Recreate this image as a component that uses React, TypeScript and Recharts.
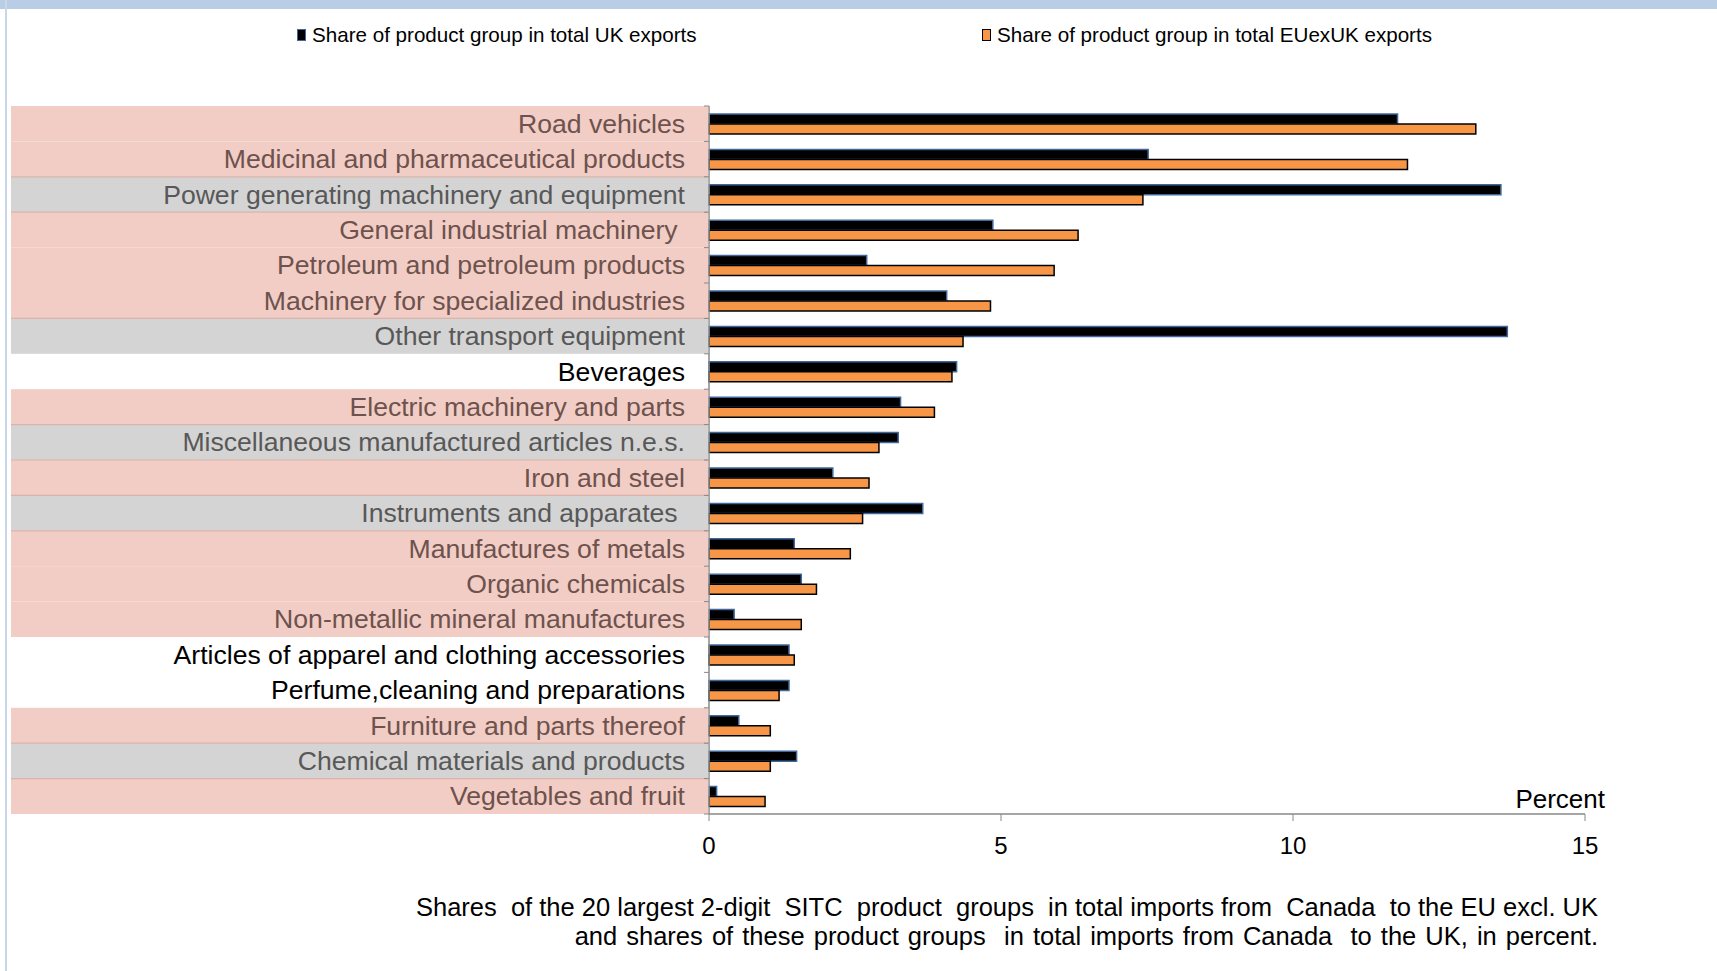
import React from "react";
import { BarChart, Bar, XAxis, YAxis, Label } from "recharts";

const categories = [
  "Road vehicles",
  "Medicinal and pharmaceutical products",
  "Power generating machinery and equipment",
  "General industrial machinery\u00a0",
  "Petroleum and petroleum products",
  "Machinery for specialized industries",
  "Other transport equipment",
  "Beverages",
  "Electric machinery and parts",
  "Miscellaneous manufactured articles n.e.s.",
  "Iron and steel",
  "Instruments and apparates\u00a0",
  "Manufactures of metals",
  "Organic chemicals",
  "Non-metallic mineral manufactures",
  "Articles of apparel and clothing accessories",
  "Perfume,cleaning and preparations",
  "Furniture and parts thereof",
  "Chemical materials and products",
  "Vegetables and fruit",
];

// share of product group in total UK exports (%)
const ukShare = [
  11.79, 7.52, 13.56, 4.86, 2.7, 4.07, 13.67, 4.24, 3.28, 3.24,
  2.12, 3.66, 1.46, 1.58, 0.43, 1.37, 1.37, 0.51, 1.5, 0.13,
];

// share of product group in total EUexUK exports (%)
const euShare = [
  13.13, 11.96, 7.43, 6.32, 5.91, 4.82, 4.35, 4.16, 3.86, 2.91,
  2.74, 2.63, 2.42, 1.84, 1.58, 1.46, 1.2, 1.05, 1.05, 0.96,
];

const seriesNames = [
  "Share of product group in total UK exports",
  "Share of product group in total EUexUK exports",
];

const xTicks = [0, 5, 10, 15];

const captionLines = [
  "Shares  of the 20 largest 2-digit  SITC  product  groups  in total imports from  Canada  to the EU excl. UK",
  "and shares of these product groups  in total imports from Canada  to the UK, in percent.",
];

// row background shading of the label column
const rowShade = [
  "pink", "pink", "gray", "pink", "pink", "pink", "gray", "none", "pink", "gray",
  "pink", "gray", "pink", "pink", "pink", "none", "none", "pink", "gray", "pink",
];

const data = categories.map((name, i) => ({
  name,
  uk: ukShare[i],
  eu: euShare[i],
}));

const FONT = "'Liberation Sans', Arial, sans-serif";
const PINK = "#f2cdc5";
const GRAY = "#d4d4d4";
const AXIS = "#898989";
const BAND_LEFT = 11;
const LABEL_GAP = 24; // tickSize + tickMargin on the category axis

const CategoryTick = (props: any) => {
  const { x, y, payload, index } = props;
  const half = payload?.offset ?? 17.7;
  const shade = rowShade[index];
  const fill = shade === "pink" ? PINK : shade === "gray" ? GRAY : "none";
  const color =
    shade === "pink" ? "#6d524d" : shade === "gray" ? "#585858" : "#000000";
  const axisX = x + LABEL_GAP;
  const prev = index > 0 ? rowShade[index - 1] : "none";
  return (
    <g>
      {fill !== "none" && (
        <rect
          x={BAND_LEFT}
          y={y - half}
          width={axisX - BAND_LEFT - 0.75}
          height={half * 2}
          fill={fill}
        />
      )}
      {index > 0 && prev !== shade && shade !== "none" && prev !== "none" && (
        <line
          x1={BAND_LEFT}
          x2={axisX}
          y1={y - half}
          y2={y - half}
          stroke="#dcb3aa"
          strokeWidth={1.2}
        />
      )}
      <line x1={axisX - 5} x2={axisX} y1={y - half} y2={y - half} stroke={AXIS} />
      {index === categories.length - 1 && (
        <line x1={axisX - 5} x2={axisX} y1={y + half} y2={y + half} stroke={AXIS} />
      )}
      <text
        x={x}
        y={y}
        textAnchor="end"
        dominantBaseline="central"
        fill={color}
        fontSize={26.6}
        fontFamily={FONT}
      >
        {payload.value}
      </text>
    </g>
  );
};

export default function App() {
  return (
    <div
      style={{
        position: "absolute",
        left: 0,
        top: 0,
        width: 1717,
        height: 971,
        background: "#fff",
        fontFamily: FONT,
        overflow: "hidden",
      }}
    >
      <div style={{ position: "absolute", left: 0, top: 0, width: 1717, height: 9, background: "#b9cde5" }} />
      <div style={{ position: "absolute", left: 5, top: 0, width: 2, height: 971, background: "#c9d7ea" }} />

      {/* legend */}
      {[
        { left: 297, fill: "#000", stroke: "#41689c" },
        { left: 982, fill: "#f79646", stroke: "#000" },
      ].map((item, i) => (
        <div
          key={i}
          style={{
            position: "absolute",
            left: item.left,
            top: 23,
            height: 24,
            display: "flex",
            alignItems: "center",
            fontSize: 20.6,
            color: "#000",
            whiteSpace: "nowrap",
          }}
        >
          <span
            style={{
              display: "inline-block",
              width: 7,
              height: 10,
              background: item.fill,
              border: `1.5px solid ${item.stroke}`,
              marginRight: 6,
            }}
          />
          {seriesNames[i]}
        </div>
      ))}

      <BarChart
        width={1717}
        height={971}
        data={data}
        layout="vertical"
        barGap={0}
        margin={{ top: 106, right: 132, left: BAND_LEFT, bottom: 117 }}
        style={{ position: "absolute", left: 0, top: 0 }}
      >
        <XAxis
          type="number"
          domain={[0, 15]}
          ticks={xTicks}
          height={40}
          tickSize={7}
          tickMargin={16}
          stroke={AXIS}
          axisLine={{ stroke: AXIS, strokeWidth: 1.5 }}
          tickLine={{ stroke: AXIS }}
          tick={{ fill: "#000", fontSize: 24, fontFamily: FONT }}
        >
          <Label
            content={(p: any) => {
              const vb = p.viewBox || {};
              return (
                <text
                  x={vb.x + vb.width + 20}
                  y={vb.y - 6}
                  textAnchor="end"
                  fontSize={26}
                  fontFamily={FONT}
                  fill="#000"
                >
                  Percent
                </text>
              );
            }}
          />
        </XAxis>
        <YAxis
          type="category"
          dataKey="name"
          width={698}
          interval={0}
          tickSize={6}
          tickMargin={18}
          tickLine={false}
          axisLine={{ stroke: AXIS, strokeWidth: 1.5 }}
          tick={(p: any) => <CategoryTick {...p} />}
        />
        <Bar
          dataKey="uk"
          name={seriesNames[0]}
          fill="#000000"
          stroke="#41689c"
          strokeWidth={1.5}
          barSize={10}
          isAnimationActive={false}
        />
        <Bar
          dataKey="eu"
          name={seriesNames[1]}
          fill="#f79646"
          stroke="#000000"
          strokeWidth={1.5}
          barSize={10}
          isAnimationActive={false}
        />
      </BarChart>

      {/* caption */}
      <div
        style={{
          position: "absolute",
          right: 119,
          top: 893,
          textAlign: "right",
          fontSize: 25.5,
          lineHeight: "29px",
          color: "#000",
          whiteSpace: "pre",
        }}
      >
        {captionLines.map((l, i) => (
          <div key={i} style={{ wordSpacing: i === 1 ? 2 : 0 }}>
            {l}
          </div>
        ))}
      </div>
    </div>
  );
}
